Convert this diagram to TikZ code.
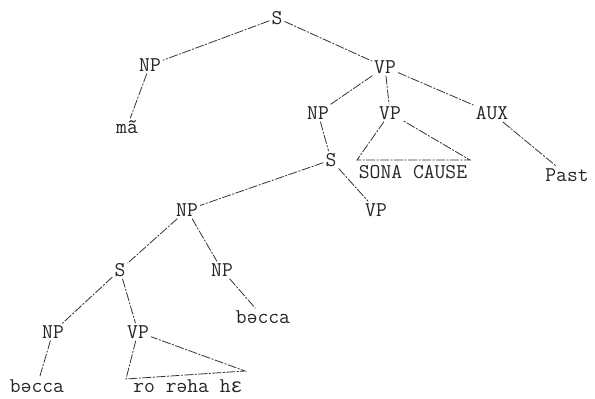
\documentclass[tikz,border=0pt]{standalone}
\usepackage{fontspec}
\newfontfamily\ipafont{Liberation Mono}
\begin{document}
\begin{tikzpicture}[x=1pt,y=-1pt,
  lab/.style={font=\ttfamily\fontsize{21}{23}\selectfont, inner sep=2pt, text=black!85},
  br/.style={draw=black!80, line width=0.8pt, dash pattern=on 9pt off 1.5pt on 2pt off 1.5pt}]
\useasboundingbox[fill=white] (0,0) rectangle (595,399);
\node[lab] (S1) at (277,18) {S};
\node[lab] (NP1) at (150,65) {NP};
\node[lab] (m) at (127,127) {mã};
\node[lab] (VP1) at (385,67) {VP};
\node[lab] (NP2) at (318,113) {NP};
\node[lab] (VP2) at (390,113) {VP};
\node[lab] (AUX) at (492,113) {AUX};
\node[lab] (SC) at (413,172) {SONA CAUSE};
\node[lab] (Past) at (567,175) {Past};
\node[lab] (S2) at (331,160) {S};
\node[lab] (VP3) at (376,210) {VP};
\node[lab] (NP3) at (187,210) {NP};
\node[lab] (S3) at (120,270) {S};
\node[lab] (NP4) at (222,270) {NP};
\node[lab] (b1) at (263,317) {bəcca};
\node[lab] (NP5) at (53,332) {NP};
\node[lab] (VP4) at (138,332) {VP};
\node[lab] (b2) at (37,386) {bəcca};
\node[lab] (rr) at (188,386) {ro rəha h{\ipafont\fontsize{20}{22}\selectfont ɛ}};
\coordinate (t1) at (357,160);
\coordinate (t2) at (470,160);
\coordinate (u1) at (126,379);
\coordinate (u2) at (245,371);
\draw[br] (S1) -- (NP1);
\draw[br] (S1) -- (VP1);
\draw[br] (NP1) -- (m);
\draw[br] (VP1) -- (NP2);
\draw[br] (VP1) -- (VP2);
\draw[br] (VP1) -- (AUX);
\draw[br] (AUX) -- (Past);
\draw[br] (NP2) -- (S2);
\draw[br] (S2) -- (NP3);
\draw[br] (S2) -- (VP3);
\draw[br] (NP3) -- (S3);
\draw[br] (NP3) -- (NP4);
\draw[br] (NP4) -- (b1);
\draw[br] (S3) -- (NP5);
\draw[br] (S3) -- (VP4);
\draw[br] (NP5) -- (b2);
\draw[br] (VP2) -- (t1) -- (t2) -- (VP2);
\draw[br] (VP4) -- (u1) -- (u2) -- (VP4);
\end{tikzpicture}
\end{document}
